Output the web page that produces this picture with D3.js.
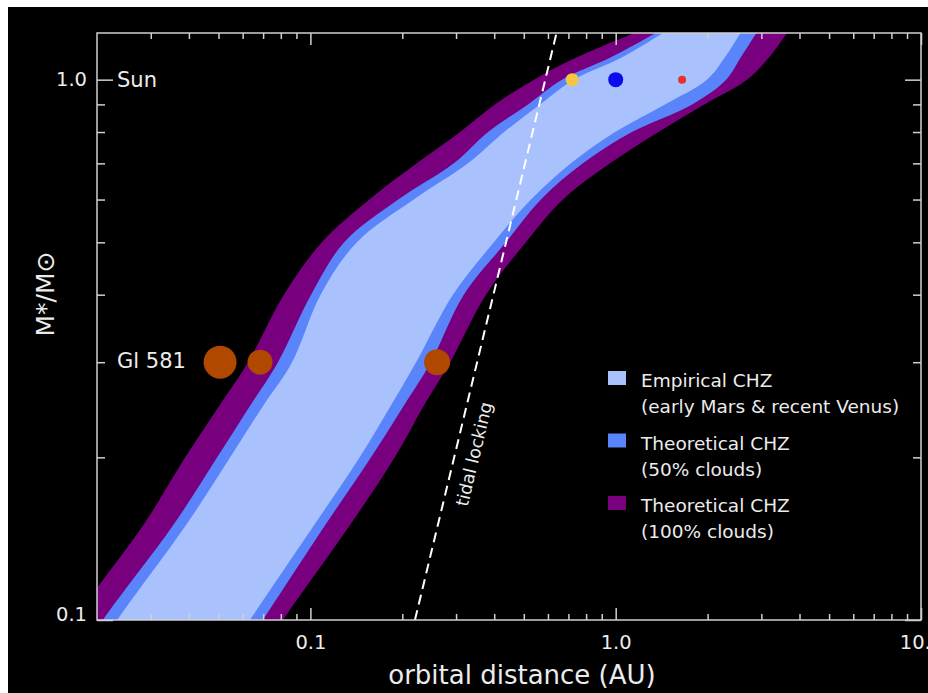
<!DOCTYPE html>
<html>
<head>
<meta charset="utf-8">
<script src="https://cdn.jsdelivr.net/npm/d3@7"></script>
<style>
    body { margin: 0; background: #ffffff; }
    text { font-family: "DejaVu Sans", sans-serif; fill: #ececec; }
</style>
</head>
<body>
<div id="chart"></div>
<script>
// stellar mass (M*/Msun) at which each boundary was read
const masses = [0.08, 0.1, 0.15, 0.2, 0.25, 0.3, 0.4, 0.5, 0.6, 0.7, 0.8, 0.9, 1.0, 1.1, 1.25];

// boundary distances (AU) for each zone, one value per mass above
const clouds100Inner  = [0.0128, 0.0167, 0.0284, 0.0389, 0.0505, 0.0625, 0.0819, 0.109, 0.156, 0.223, 0.309, 0.402, 0.540, 0.747, 1.28];
const clouds50Inner   = [0.0161, 0.0209, 0.0356, 0.0495, 0.0637, 0.0783, 0.1005, 0.129, 0.194, 0.295, 0.382, 0.516, 0.667, 0.965, 1.46];
const empiricalInner  = [0.0179, 0.0233, 0.0392, 0.0546, 0.0703, 0.0871, 0.108, 0.142, 0.218, 0.328, 0.431, 0.565, 0.730, 1.05, 1.53];
const empiricalOuter  = [0.0487, 0.0634, 0.103, 0.145, 0.184, 0.222, 0.293, 0.399, 0.528, 0.714, 0.995, 1.45, 1.99, 2.28, 2.63];
const clouds50Outer   = [0.0537, 0.0699, 0.112, 0.158, 0.203, 0.248, 0.318, 0.437, 0.569, 0.781, 1.13, 1.78, 2.30, 2.57, 2.97];
const clouds100Outer  = [0.0625, 0.0813, 0.135, 0.189, 0.236, 0.287, 0.376, 0.508, 0.672, 0.958, 1.38, 1.95, 2.69, 3.18, 3.75];

// planets
const sunMass = 1.0;
const sunPlanetDist = [0.72, 1.0, 1.65];          // Venus, Earth, Mars
const glMass = 0.3;
const glPlanetDist = [0.0506, 0.0684, 0.26];

// tidal locking limit
const tidalDist = [0.22, 0.64];
const tidalMass = [0.1, 1.22];

// ticks
const xMajor = [0.1, 1, 10];
const xMajorLabels = ["0.1", "1.0", "10.0"];
const xMinor = [0.03, 0.04, 0.05, 0.06, 0.07, 0.08, 0.09, 0.2, 0.3, 0.4, 0.5, 0.6, 0.7, 0.8, 0.9, 2, 3, 4, 5, 6, 7, 8, 9];
const yMajor = [0.1, 1];
const yMajorLabels = ["0.1", "1.0"];
const yMinor = [0.2, 0.3, 0.4, 0.5, 0.6, 0.7, 0.8, 0.9];

const legendLabels = [
    ["Empirical CHZ", "(early Mars & recent Venus)"],
    ["Theoretical CHZ", "(50% clouds)"],
    ["Theoretical CHZ", "(100% clouds)"]
];

const W = 928, H = 693;
const margin = {top: 33, right: 7, bottom: 73, left: 97};
const width = W - margin.left - margin.right;
const height = H - margin.top - margin.bottom;

const svg = d3.select("#chart").append("svg")
    .attr("width", W)
    .attr("height", H);

svg.append("rect")
    .attr("x", 8).attr("y", 7)
    .attr("width", W - 8).attr("height", H - 7)
    .attr("fill", "#000000");

const g = svg.append("g")
    .attr("transform", `translate(${margin.left},${margin.top})`);

const x = d3.scaleLog().domain([0.02, 10]).range([0, width]);
const y = d3.scaleLog().domain([0.1, 1.22]).range([height, 0]);

g.append("clipPath").attr("id", "plot-clip")
    .append("rect").attr("width", width).attr("height", height);

const zones = [
    {inner: clouds100Inner, outer: clouds100Outer, color: "#78007f"},
    {inner: clouds50Inner, outer: clouds50Outer, color: "#5a84f9"},
    {inner: empiricalInner, outer: empiricalOuter, color: "#a9c2fd"}
];

const area = d3.area()
    .y(d => y(d.m))
    .x0(d => x(d.a))
    .x1(d => x(d.b))
    .curve(d3.curveCatmullRom.alpha(0.5));

const bands = g.append("g").attr("clip-path", "url(#plot-clip)");

zones.forEach(z => {
    const rows = masses.map((m, i) => ({m: m, a: z.inner[i], b: z.outer[i]}));
    bands.append("path")
        .datum(rows)
        .attr("d", area)
        .attr("fill", z.color);
});

// tidal locking line
bands.append("line")
    .attr("x1", x(tidalDist[0])).attr("y1", y(tidalMass[0]))
    .attr("x2", x(tidalDist[1])).attr("y2", y(tidalMass[1]))
    .attr("stroke", "#ffffff")
    .attr("stroke-width", 2)
    .attr("stroke-dasharray", "10,6");

// planets
const sunColors = ["#f8c63c", "#0b0bec", "#e5322a"];
const sunRadii = [6.5, 7.5, 4];
g.selectAll("circle.sun")
    .data(sunPlanetDist)
    .enter()
    .append("circle")
    .attr("class", "sun")
    .attr("cx", d => x(d))
    .attr("cy", y(sunMass))
    .attr("r", (d, i) => sunRadii[i])
    .attr("fill", (d, i) => sunColors[i]);

const glRadii = [16.5, 12.5, 13];
g.selectAll("circle.gl")
    .data(glPlanetDist)
    .enter()
    .append("circle")
    .attr("class", "gl")
    .attr("cx", d => x(d))
    .attr("cy", y(glMass))
    .attr("r", (d, i) => glRadii[i])
    .attr("fill", "#b04800");

g.append("text")
    .attr("x", 20).attr("y", y(sunMass))
    .attr("dy", "0.36em")
    .style("font-size", "21px")
    .text("Sun");

g.append("text")
    .attr("x", 20).attr("y", y(glMass))
    .attr("dy", "0.3em")
    .style("font-size", "21px")
    .text("Gl 581");

// tidal locking label
g.append("text")
    .attr("transform", `translate(${474 - margin.left},${454 - margin.top}) rotate(-76.5)`)
    .attr("text-anchor", "middle")
    .attr("dy", "0.35em")
    .style("font-size", "17.5px")
    .text("tidal locking");

// axes
const axisColor = "#d0d0d0";
function styleAxis(sel) {
    sel.select(".domain").remove();
    sel.selectAll("line").attr("stroke", axisColor).attr("stroke-width", 1.5);
    sel.selectAll("text")
        .style("fill", "#ececec")
        .style("font-size", "19.5px")
        .style("font-family", "\"DejaVu Sans\", sans-serif");
}

const xAll = xMajor.concat(xMinor);
const xLabel = d => { const i = xMajor.indexOf(d); return i >= 0 ? xMajorLabels[i] : ""; };
const yAll = yMajor.concat(yMinor);
const yLabel = d => { const i = yMajor.indexOf(d); return i >= 0 ? yMajorLabels[i] : ""; };

const xBottom = g.append("g")
    .attr("transform", `translate(0,${height})`)
    .call(d3.axisBottom(x).tickValues(xAll).tickFormat(xLabel).tickSizeInner(-6).tickSizeOuter(0).tickPadding(15))
    .call(styleAxis);
xBottom.selectAll(".tick").filter(d => xMajor.includes(d)).select("line").attr("y2", -12);

const xTop = g.append("g")
    .call(d3.axisTop(x).tickValues(xAll).tickFormat("").tickSizeInner(-6).tickSizeOuter(0))
    .call(styleAxis);
xTop.selectAll(".tick").filter(d => xMajor.includes(d)).select("line").attr("y2", 12);

const yLeft = g.append("g")
    .call(d3.axisLeft(y).tickValues(yAll).tickFormat(yLabel).tickSizeInner(-8).tickSizeOuter(0).tickPadding(10))
    .call(styleAxis);
yLeft.selectAll(".tick").filter(d => yMajor.includes(d)).select("line").attr("x2", 16);
yLeft.selectAll(".tick").filter(d => d === 0.1).select("text").attr("dy", "0.0em");

const yRight = g.append("g")
    .attr("transform", `translate(${width},0)`)
    .call(d3.axisRight(y).tickValues(yAll).tickFormat("").tickSizeInner(-8).tickSizeOuter(0))
    .call(styleAxis);
yRight.selectAll(".tick").filter(d => yMajor.includes(d)).select("line").attr("x2", -16);

// frame
g.append("rect")
    .attr("width", width).attr("height", height)
    .attr("fill", "none")
    .attr("stroke", axisColor)
    .attr("stroke-width", 1.5);

// axis titles
svg.append("text")
    .attr("x", 522).attr("y", 684)
    .attr("text-anchor", "middle")
    .style("font-size", "26px")
    .text("orbital distance (AU)");

svg.append("text")
    .attr("transform", "translate(54,294) rotate(-90)")
    .attr("text-anchor", "middle")
    .style("font-size", "25px")
    .text("M*/M⊙");

// legend
const legendColors = zones.map(z => z.color).reverse();
const legend = svg.append("g").attr("transform", "translate(608,387)");
legendLabels.forEach((lines, i) => {
    const row = legend.append("g").attr("transform", `translate(0,${i * 62.5})`);
    row.append("rect")
        .attr("x", 0).attr("y", -16)
        .attr("width", 18).attr("height", 14)
        .attr("fill", legendColors[i]);
    lines.forEach((t, j) => {
        row.append("text")
            .attr("x", 33).attr("y", j * 26)
            .style("font-size", "18.5px")
            .text(t);
    });
});
</script>
</body>
</html>
